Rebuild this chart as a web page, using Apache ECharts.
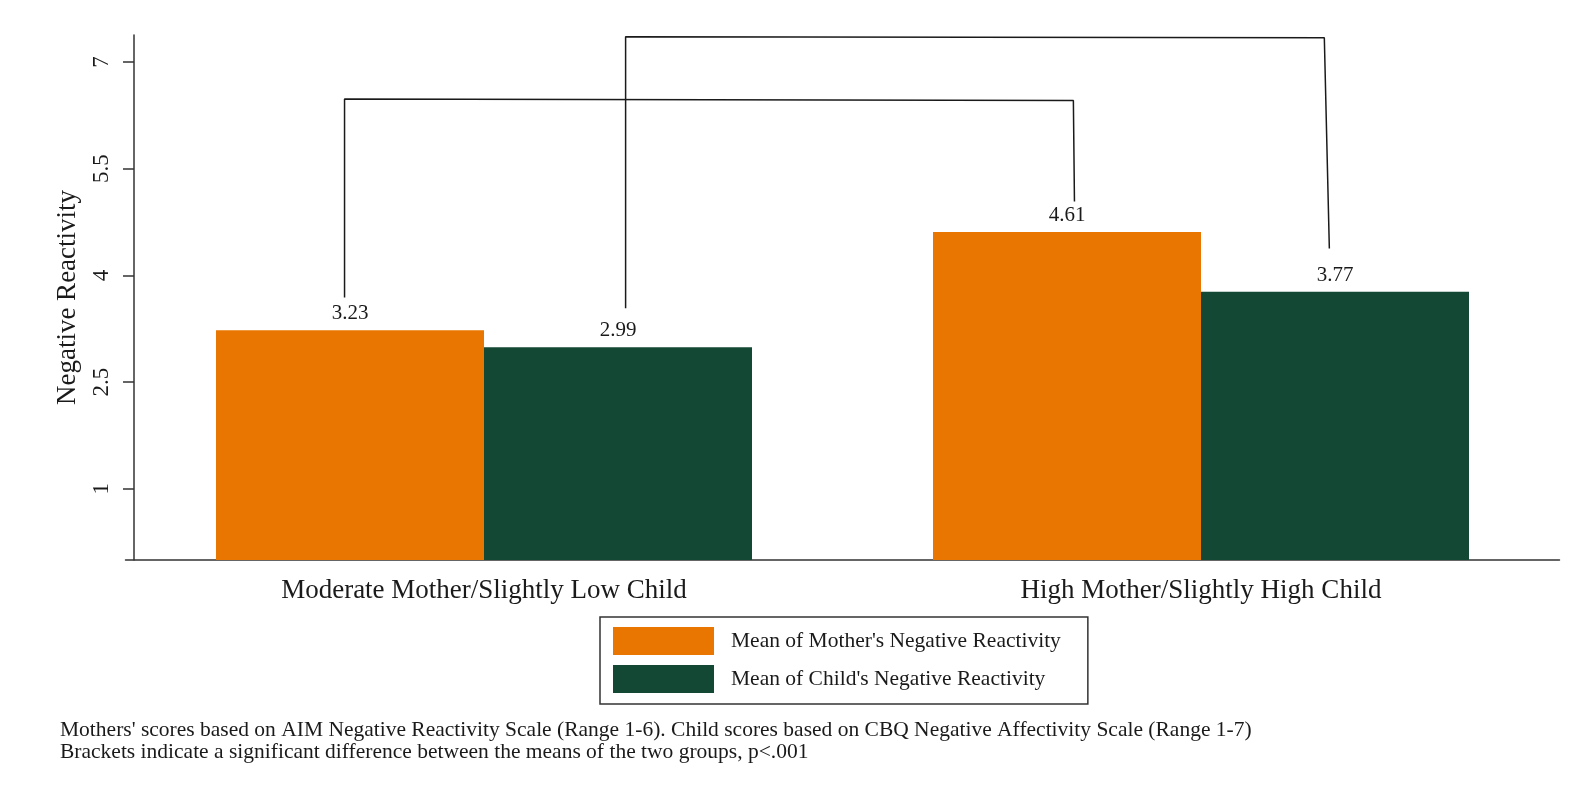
<!DOCTYPE html>
<html>
<head>
<meta charset="utf-8">
<style>
  html, body { margin: 0; padding: 0; background: #fff; }
  #chart { width: 1574px; height: 789px; }
</style>
<script src="https://cdn.jsdelivr.net/npm/echarts@6/dist/echarts.min.js"></script>
</head>
<body>
<div id="chart"></div>
<script>
const groups = ['Moderate Mother/Slightly Low Child', 'High Mother/Slightly High Child']
const motherMeans = [3.23, 4.61]
const childMeans = [2.99, 3.77]
const seriesNames = ["Mean of Mother's Negative Reactivity", "Mean of Child's Negative Reactivity"]
const yTicks = [1, 2.5, 4, 5.5, 7]
// significance brackets, in [bar position, value] pairs along a 0..4 helper axis
const bracketMothers = [[0.611, 3.69], [0.611, 6.48], [2.644, 6.46], [2.647, 5.04]]
const bracketChildren = [[1.395, 3.54], [1.395, 7.355], [3.344, 7.34], [3.358, 4.38]]
const notes = [
  "Mothers' scores based on AIM Negative Reactivity Scale (Range 1-6). Child scores based on CBQ Negative Affectivity Scale (Range 1-7)",
  'Brackets indicate a significant difference between the means of the two groups, p<.001'
]

const serif = '"Liberation Serif", "Times New Roman", serif'
const ink = '#1a1a1a'
const orange = '#e87600'
const green = '#134834'

const chart = echarts.init(document.getElementById('chart'))

const barLabel = {
  show: true,
  position: 'top',
  distance: 6,
  color: ink,
  fontFamily: serif,
  fontSize: 21,
  formatter: p => p.value.toFixed(2)
}

const bracket = (data) => ({
  type: 'line',
  xAxisIndex: 1,
  data,
  symbol: 'none',
  silent: true,
  lineStyle: { color: ink, width: 1.5 },
  z: 5
})

chart.setOption({
  animation: false,
  textStyle: { fontFamily: serif },
  title: {
    left: 60,
    top: 719,
    padding: 0,
    text: notes.join('\n'),
    textStyle: { fontFamily: serif, fontSize: 21.5, fontWeight: 'normal', color: ink, lineHeight: 22 }
  },
  grid: { left: 125.5, right: 14.5, top: 35, bottom: 229 },
  legend: {
    orient: 'vertical',
    left: 600,
    top: 617,
    data: seriesNames,
    icon: 'rect',
    itemWidth: 101,
    itemHeight: 28,
    itemGap: 10,
    padding: [10, 27, 11, 13],
    borderColor: '#333',
    borderWidth: 1.5,
    textStyle: { fontFamily: serif, fontSize: 21.5, color: ink, padding: [0, 0, 0, 12] }
  },
  xAxis: [
    {
      type: 'category',
      data: groups,
      axisLine: { lineStyle: { color: '#333', width: 1.5 } },
      axisTick: { show: false },
      axisLabel: { color: ink, fontFamily: serif, fontSize: 27, margin: 17 }
    },
    { type: 'value', min: 0, max: 4, show: false }
  ],
  yAxis: {
    type: 'value',
    min: 0,
    max: 7.38,
    offset: -8.5,
    name: 'Negative Reactivity',
    nameLocation: 'middle',
    nameGap: 53,
    nameTextStyle: { color: ink, fontFamily: serif, fontSize: 27 },
    splitLine: { show: false },
    axisLine: { show: true, lineStyle: { color: '#333', width: 1.5 } },
    axisTick: { show: true, length: 11, customValues: yTicks, lineStyle: { color: '#333', width: 1.5 } },
    axisLabel: { rotate: 90, margin: 21, color: ink, fontFamily: serif, fontSize: 23, customValues: yTicks }
  },
  series: [
    {
      name: seriesNames[0],
      type: 'bar',
      data: motherMeans,
      barWidth: 268,
      barGap: '0%',
      itemStyle: { color: orange },
      label: barLabel
    },
    {
      name: seriesNames[1],
      type: 'bar',
      data: childMeans,
      barWidth: 268,
      barGap: '0%',
      itemStyle: { color: green },
      label: barLabel
    },
    bracket(bracketMothers),
    bracket(bracketChildren)
  ]
})

window.addEventListener('resize', () => chart.resize())
</script>
</body>
</html>
